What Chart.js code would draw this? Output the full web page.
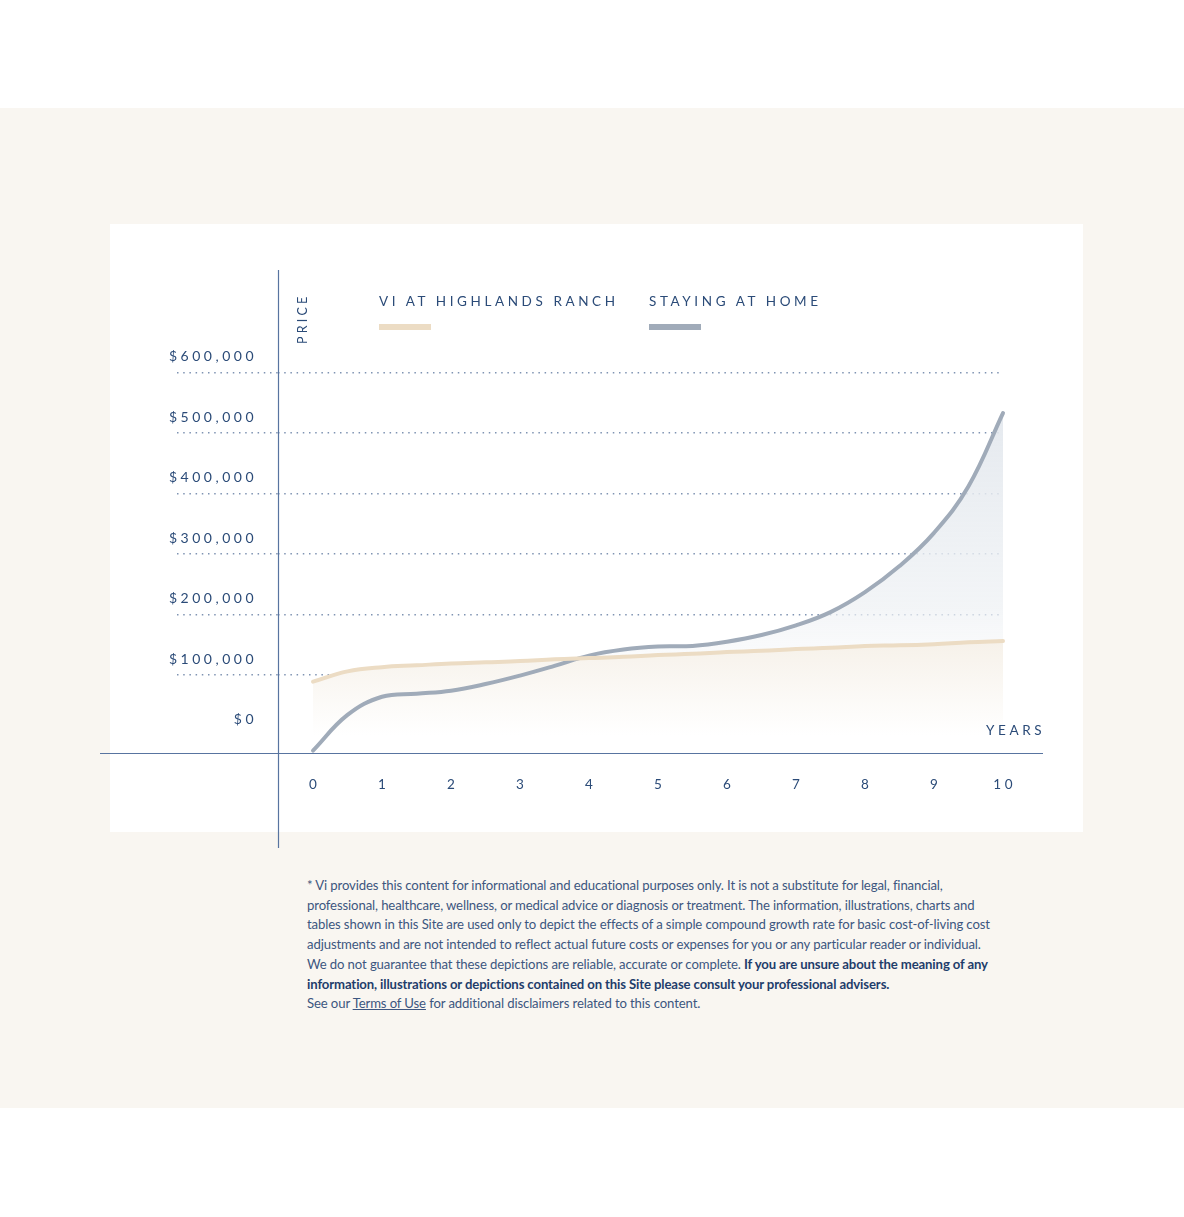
<!DOCTYPE html>
<html>
<head>
<meta charset="utf-8">
<script src="https://cdn.jsdelivr.net/npm/chart.js@4.4.1/dist/chart.umd.min.js"></script>
<style>
  html, body { margin: 0; padding: 0; background: #ffffff; }
  body { width: 1184px; height: 1217px; position: relative; overflow: hidden; font-family: Lato, "Open Sans", sans-serif; }
  #band { position: absolute; left: 0; top: 108px; width: 1184px; height: 1000px; background: #f9f6f1; }
  #card { position: absolute; left: 110px; top: 224px; width: 973px; height: 608px; background: #ffffff; }
  #wrap { position: absolute; left: 90px; top: 250px; width: 980px; height: 620px; }
  .lbl { position: absolute; color: #2b4b78; font-size: 13.5px; letter-spacing: 3.6px; white-space: nowrap; line-height: 1; }
  .sw { position: absolute; height: 6px; width: 52px; }
  #price { position: absolute; left: 297px; top: 344px; transform-origin: 0 0; transform: rotate(-90deg); color: #2b4b78; font-size: 12.5px; letter-spacing: 3.2px; line-height: 1; white-space: nowrap; }
  #note { position: absolute; left: 307px; top: 876px; font-size: 13.15px; line-height: 19.7px; color: #3d5680; letter-spacing: -0.12px; white-space: nowrap; }
  #note b { color: #1f3d6b; font-weight: 700; }
  #note u { text-decoration: underline; }
</style>
</head>
<body>
<div id="band"></div>
<div id="card"></div>
<div id="wrap"><canvas id="c" width="980" height="620"></canvas></div>
<div class="lbl" style="left:379px; top:295px;">VI AT HIGHLANDS RANCH</div>
<div class="sw" style="left:379px; top:324px; background:#ecdcc4;"></div>
<div class="lbl" style="left:649px; top:295px;">STAYING AT HOME</div>
<div class="sw" style="left:649px; top:324px; background:#a0abb9;"></div>
<div id="price">PRICE</div>
<div class="lbl" style="left:986px; top:724px;">YEARS</div>
<div id="note">* Vi provides this content for informational and educational purposes only. It is not a substitute for legal, financial,<br>professional, healthcare, wellness, or medical advice or diagnosis or treatment. The information, illustrations, charts and<br>tables shown in this Site are used only to depict the effects of a simple compound growth rate for basic cost-of-living cost<br>adjustments and are not intended to reflect actual future costs or expenses for you or any particular reader or individual.<br>We do not guarantee that these depictions are reliable, accurate or complete. <b>If you are unsure about the meaning of any<br>information, illustrations or depictions contained on this Site please consult your professional advisers.</b><br>See our <u>Terms of Use</u> for additional disclaimers related to this content.</div>
<script>
// ---- data (every half year) ----
const years = [0, 0.5, 1, 1.5, 2, 2.5, 3, 3.5, 4, 4.5, 5, 5.5, 6, 6.5, 7, 7.5, 8, 8.5, 9, 9.5, 10];
const viHighlandsRanch = [89000, 106000, 113000, 116000, 119000, 121000, 123000, 126000, 128000, 130000, 133000,
                          135000, 138000, 140000, 143000, 145000, 148000, 149000, 151000, 154000, 156000];
const stayingAtHome = [-25000, 34000, 64000, 69000, 74000, 85000, 99000, 115000, 132000, 142000, 147000,
                       148000, 155000, 166000, 182000, 204000, 237000, 280000, 335000, 412000, 533000];
const yTickValues = [0, 100000, 200000, 300000, 400000, 500000, 600000];
const xTickValues = [0, 1, 2, 3, 4, 5, 6, 7, 8, 9, 10];

const TEXT = '#2b4b78';
const AXIS = '#5874a0';
const DOT = '#7f93b2';
const DASH = [1.5, 4.7];

function toPoints(arr) { return years.map((x, i) => ({ x: x, y: arr[i] })); }

const letterPlugin = {
  id: 'letters',
  beforeInit(chart) { chart.ctx.letterSpacing = '3.5px'; },
  beforeDraw(chart) { chart.ctx.letterSpacing = '3.5px'; }
};

const axesPlugin = {
  id: 'axesLines',
  afterDraw(chart) {
    const ctx = chart.ctx, a = chart.chartArea;
    ctx.save();
    ctx.strokeStyle = AXIS;
    ctx.lineWidth = 1.2;
    ctx.setLineDash([]);
    ctx.beginPath();
    ctx.moveTo(10, a.bottom + 0.5);
    ctx.lineTo(953, a.bottom + 0.5);
    ctx.moveTo(a.left + 0.5, a.top);
    ctx.lineTo(a.left + 0.5, 598);
    ctx.stroke();
    ctx.restore();
  }
};

new Chart(document.getElementById('c'), {
  type: 'line',
  data: {
    datasets: [
      {
        label: 'VI AT HIGHLANDS RANCH',
        data: toPoints(viHighlandsRanch),
        borderColor: '#ecdcc4',
        borderWidth: 4,
        borderCapStyle: 'round',
        pointRadius: 0,
        tension: 0.4,
        clip: false,
        fill: 'origin',
        backgroundColor: (c) => {
          const ch = c.chart; const a = ch.chartArea; if (!a) return 'rgba(0,0,0,0)';
          const y0 = ch.scales.y.getPixelForValue(160000);
          const y1 = ch.scales.y.getPixelForValue(0);
          const g = ch.ctx.createLinearGradient(0, y0, 0, y1);
          g.addColorStop(0, '#f6f1e9');
          g.addColorStop(1, '#ffffff');
          return g;
        }
      },
      {
        label: 'STAYING AT HOME',
        data: toPoints(stayingAtHome),
        borderColor: '#a0abb9',
        borderWidth: 4,
        borderCapStyle: 'round',
        pointRadius: 0,
        tension: 0.4,
        clip: false,
        fill: 'origin',
        backgroundColor: (c) => {
          const ch = c.chart; const a = ch.chartArea; if (!a) return 'rgba(0,0,0,0)';
          const y0 = ch.scales.y.getPixelForValue(540000);
          const y1 = ch.scales.y.getPixelForValue(0);
          const g = ch.ctx.createLinearGradient(0, y0, 0, y1);
          g.addColorStop(0, 'rgba(226,231,237,0.9)');
          g.addColorStop(0.6, 'rgba(238,241,244,0.75)');
          g.addColorStop(1, 'rgba(255,255,255,0)');
          return g;
        }
      }
    ]
  },
  options: {
    responsive: false,
    animation: false,
    events: [],
    layout: { padding: { left: 10, right: 67, top: 20, bottom: 0 } },
    plugins: {
      legend: { display: false },
      tooltip: { enabled: false },
      filler: { drawTime: 'beforeDatasetsDraw' }
    },
    scales: {
      x: {
        type: 'linear',
        min: -0.5072,
        max: 10,
        afterBuildTicks(s) { s.ticks = xTickValues.map(v => ({ value: v })); },
        afterFit(s) { s.height = 117; },
        grid: { display: false, drawTicks: false },
        border: { display: false },
        ticks: {
          color: TEXT,
          font: { family: 'Lato', size: 13.5 },
          padding: 24,
          labelOffset: 1.7,
          maxRotation: 0,
          autoSkip: false,
          callback: (v) => String(v)
        }
      },
      y: {
        type: 'linear',
        min: -28926,
        max: 769421,
        afterBuildTicks(s) { s.ticks = yTickValues.map(v => ({ value: v })); },
        afterFit(s) { s.width = 178; },
        border: { display: false, dash: DASH },
        grid: {
          drawTicks: true,
          tickLength: 101,
          lineWidth: 1.4,
          tickWidth: 1.4,
          tickBorderDash: DASH,
          color: (c) => (c.tick && c.tick.value === 0) ? 'rgba(0,0,0,0)' : DOT,
          tickColor: (c) => (c.tick && c.tick.value === 0) ? 'rgba(0,0,0,0)' : DOT
        },
        ticks: {
          color: TEXT,
          font: { family: 'Lato', size: 14 },
          padding: -80,
          labelOffset: -16,
          autoSkip: false,
          callback: (v) => '$' + Number(v).toLocaleString('en-US')
        }
      }
    }
  },
  plugins: [letterPlugin, axesPlugin]
});
</script>
</body>
</html>
